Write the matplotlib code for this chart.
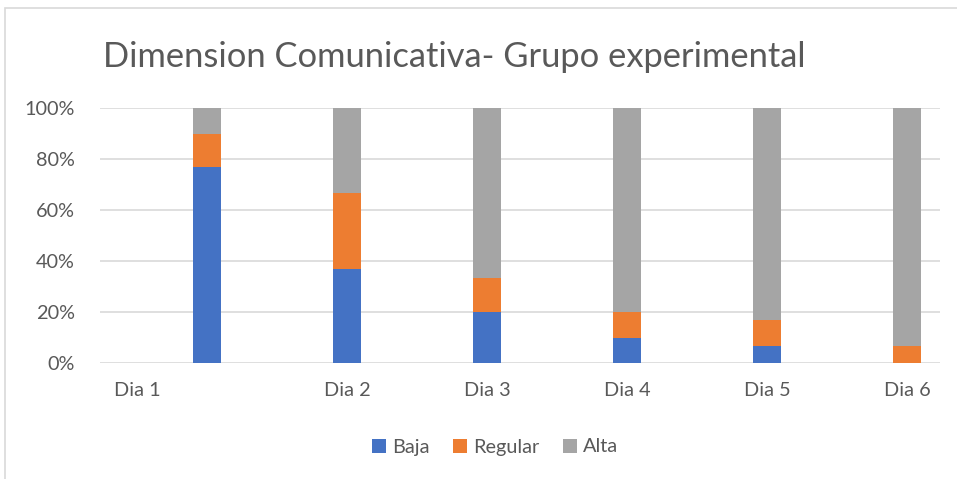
import numpy as np
import matplotlib.pyplot as plt
from matplotlib.patches import Rectangle
from matplotlib.ticker import PercentFormatter

dias = ['Dia 1', 'Dia 2', 'Dia 3', 'Dia 4', 'Dia 5', 'Dia 6']
baja = [76.7, 36.7, 20.0, 10.0, 6.7, 0.0]
regular = [13.3, 30.0, 13.3, 10.0, 10.0, 6.7]
alta = [10.0, 33.3, 66.7, 80.0, 83.3, 93.3]
series = ['Baja', 'Regular', 'Alta']
colores = ['#4472C4', '#ED7D31', '#A5A5A5']

plt.rcParams['font.family'] = ['Lato', 'DejaVu Sans']
txt = '#595959'

fig = plt.figure(figsize=(9.57, 4.79), dpi=100)
fig.patches.append(Rectangle((5 / 957, -0.1), 1.2, 1 - 8 / 479 + 0.1, transform=fig.transFigure,
                             fill=False, edgecolor='#d9d9d9', lw=1.2))
ax = fig.add_axes([100 / 957, 1 - 363 / 479, 840 / 957, 255 / 479])

x = np.arange(len(dias))
abajo = np.zeros(len(dias))
for nombre, vals, c in zip(series, [baja, regular, alta], colores):
    ax.bar(x, vals, 0.2, bottom=abajo, color=c, label=nombre, zorder=3)
    abajo += np.array(vals)

ax.set_xlim(-0.764, 5.236)
ax.set_ylim(0, 100)
ax.set_yticks(np.arange(0, 101, 20))
ax.yaxis.set_major_formatter(PercentFormatter(decimals=0))
ax.grid(axis='y', color='#d9d9d9', lw=1.2, zorder=0)
for s in ax.spines.values():
    s.set_visible(False)
ax.tick_params(axis='both', length=0, labelsize=14.3, colors=txt, pad=18)
ax.tick_params(axis='x', pad=14)
# la etiqueta "Dia 1" queda desplazada respecto a su barra, como en el original
ax.set_xticks([-0.5, 1, 2, 3, 4, 5])
ax.set_xticklabels(dias)

fig.text(103 / 957, 1 - 57 / 479, 'Dimension Comunicativa- Grupo experimental',
         fontsize=24.8, color=txt, va='center', ha='left')

fig.legend(loc='center', bbox_to_anchor=(495 / 957, 1 - 447 / 479), ncol=3, frameon=False,
           fontsize=14.3, labelcolor=txt, handlelength=0.7, handleheight=0.7,
           handletextpad=0.3, columnspacing=1.2)

fig.savefig('out.png', dpi=100)
